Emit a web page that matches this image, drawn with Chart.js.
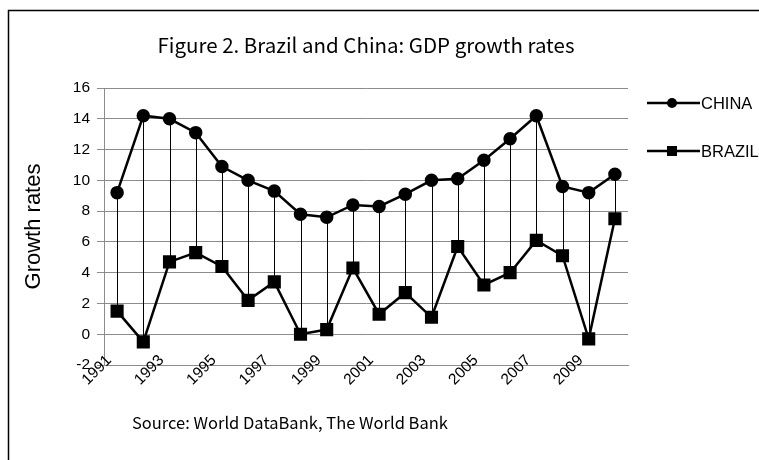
<!DOCTYPE html>
<html>
<head>
<meta charset="utf-8">
<script src="https://cdn.jsdelivr.net/npm/chart.js@4/dist/chart.umd.min.js"></script>
<style>
  html, body { margin: 0; padding: 0; background: #fff; }
  #wrap { width: 759px; height: 460px; }
</style>
</head>
<body>
<div id="wrap"><canvas id="gdp_chart" width="759" height="460"></canvas></div>
<script>
var years = ["1991", "1992", "1993", "1994", "1995", "1996", "1997", "1998", "1999", "2000",
             "2001", "2002", "2003", "2004", "2005", "2006", "2007", "2008", "2009", "2010"];
var china = [9.2, 14.2, 14.0, 13.1, 10.9, 10.0, 9.3, 7.8, 7.6, 8.4,
             8.3, 9.1, 10.0, 10.1, 11.3, 12.7, 14.2, 9.6, 9.2, 10.4];
var brazil = [1.5, -0.5, 4.7, 5.3, 4.4, 2.2, 3.4, 0.0, 0.3, 4.3,
              1.3, 2.7, 1.1, 5.7, 3.2, 4.0, 6.1, 5.1, -0.3, 7.5];
var seriesNames = ["CHINA", "BRAZIL"];
var yTicks = [-2, 0, 2, 4, 6, 8, 10, 12, 14, 16];

var titleText = "Figure 2. Brazil and China: GDP growth rates";
var sourceText = "Source: World DataBank, The World Bank";
var textFont = "'Noto Sans CJK JP', 'Liberation Sans', sans-serif";
var axisFont = "'Liberation Sans', Arial, sans-serif";

// frame, title, source note, year labels and a legend with line + marker samples
var decorations = {
  id: 'decorations',
  beforeDraw: function (chart) {
    var ctx = chart.ctx;
    ctx.save();
    ctx.fillStyle = "#fff";
    ctx.fillRect(0, 0, chart.width, chart.height);
    ctx.strokeStyle = "#000";
    ctx.lineWidth = 1.5;
    ctx.strokeRect(8.5, 10.5, 900, 600);
    ctx.restore();
  },
  afterDraw: function (chart) {
    var ctx = chart.ctx;
    var area = chart.chartArea;
    var xScale = chart.scales.x;
    ctx.save();
    ctx.fillStyle = "#000";
    ctx.textBaseline = "middle";
    ctx.font = "20.5px " + textFont;
    ctx.textAlign = "center";
    ctx.fillText(titleText, (area.left + area.right) / 2, 45);
    ctx.font = "16.5px " + textFont;
    ctx.textAlign = "left";
    ctx.fillText(sourceText, 132, 423);

    // every other year, slanted, sitting just over the bottom axis line
    ctx.font = "15.5px " + axisFont;
    ctx.textAlign = "right";
    years.forEach(function (yr, i) {
      if (i % 2 !== 0) return;
      ctx.save();
      ctx.translate(xScale.getPixelForValue(i) - 8, area.bottom - 7);
      ctx.rotate(-Math.PI / 4);
      ctx.fillText(yr, 0, 0);
      ctx.restore();
    });

    // legend
    var rows = [103, 151];
    chart.data.datasets.forEach(function (ds, i) {
      var y = rows[i];
      ctx.strokeStyle = "#000";
      ctx.lineWidth = 2.5;
      ctx.beginPath();
      ctx.moveTo(647, y);
      ctx.lineTo(700, y);
      ctx.stroke();
      ctx.beginPath();
      if (ds.pointStyle === 'rect') {
        ctx.rect(667, y - 5, 10, 10);
      } else {
        ctx.arc(672, y, 5, 0, Math.PI * 2);
      }
      ctx.fill();
      ctx.font = "16.5px " + axisFont;
      ctx.textAlign = "left";
      ctx.fillText(ds.label, 701, y + 1);
    });
    ctx.restore();
  }
};

// vertical high-low lines joining the two series in each year
var dropLines = {
  id: 'dropLines',
  beforeDatasetsDraw: function (chart) {
    var a = chart.getDatasetMeta(0).data;
    var b = chart.getDatasetMeta(1).data;
    var ctx = chart.ctx;
    ctx.save();
    ctx.strokeStyle = "#000";
    ctx.lineWidth = 1;
    for (var i = 0; i < a.length; i++) {
      var x = Math.round(a[i].x) + 0.5;
      ctx.beginPath();
      ctx.moveTo(x, a[i].y);
      ctx.lineTo(x, b[i].y);
      ctx.stroke();
    }
    ctx.restore();
  }
};

var ctx = document.getElementById("gdp_chart");
var gdpChart = new Chart(ctx, {
  type: 'line',
  plugins: [decorations, dropLines],
  data: {
    labels: years,
    datasets: [{
      label: seriesNames[0],
      data: china,
      borderColor: "#000",
      backgroundColor: "#000",
      borderWidth: 2.5,
      pointStyle: 'circle',
      pointRadius: 5.5,
      pointHoverRadius: 5.5,
      tension: 0
    }, {
      label: seriesNames[1],
      data: brazil,
      borderColor: "#000",
      backgroundColor: "#000",
      borderWidth: 2.5,
      pointStyle: 'rect',
      pointRadius: 7.5,
      pointHoverRadius: 7.5,
      tension: 0
    }]
  },
  options: {
    responsive: false,
    animation: false,
    events: [],
    layout: {
      padding: { left: 0, top: 88, right: 131, bottom: 0 }
    },
    plugins: {
      legend: { display: false },
      title: { display: false },
      tooltip: { enabled: false }
    },
    scales: {
      x: {
        offset: true,
        grid: { display: false, drawTicks: false },
        border: { display: true, color: "#8c8c8c", width: 1 },
        ticks: { display: false },
        afterFit: function (scale) { scale.height = 95; }
      },
      y: {
        min: -2,
        max: 16,
        afterBuildTicks: function (scale) {
          scale.ticks = yTicks.map(function (v) { return { value: v }; });
        },
        grid: { color: "#8c8c8c", lineWidth: 1, tickLength: 7 },
        border: { display: true, color: "#8c8c8c", width: 1 },
        ticks: {
          padding: 7,
          color: "#000",
          font: { family: axisFont, size: 15.5 }
        },
        title: {
          display: true,
          text: "Growth rates",
          color: "#000",
          font: { family: axisFont, size: 22 },
          padding: { top: 21, bottom: 0 }
        },
        afterFit: function (scale) { scale.width = 104; }
      }
    }
  }
});
</script>
</body>
</html>
